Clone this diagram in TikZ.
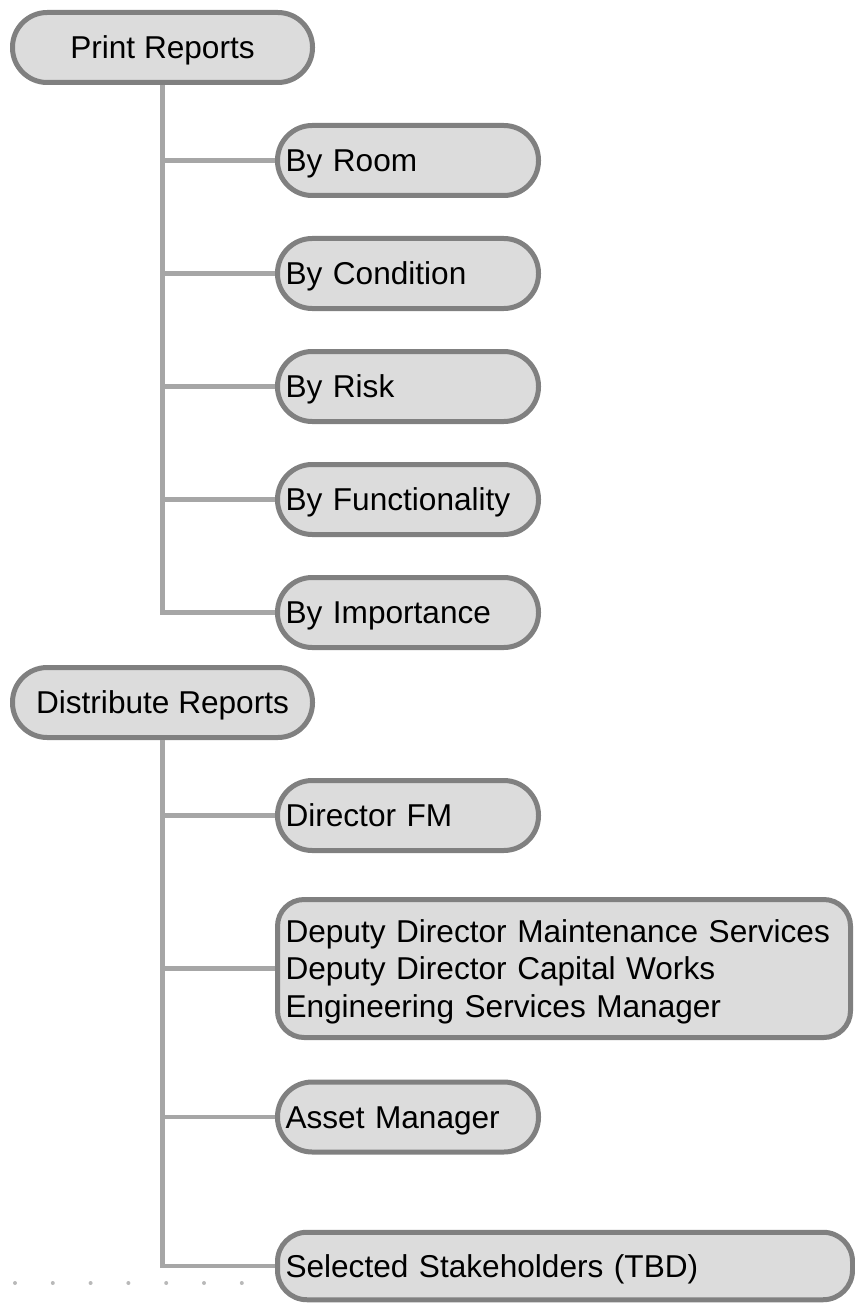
\documentclass[tikz,border=0pt]{standalone}
\usepackage{fontspec}
\setmainfont{Liberation Sans}
\definecolor{boxline}{RGB}{128,128,128}
\definecolor{boxfill}{RGB}{220,220,220}
\definecolor{linkline}{RGB}{166,166,166}
\definecolor{dotgray}{RGB}{185,185,185}
\tikzset{
  topic/.style={draw=boxline, fill=boxfill, line width=3.75pt,
    rounded corners=26pt, minimum width=225pt, minimum height=52.5pt,
    inner sep=0pt, align=center,
    font=\fontsize{23.7pt}{28.1pt}\selectfont,
    text height=17pt, text depth=0pt},
  item/.style={topic, minimum width=195.75pt, inner xsep=6pt,
    text width=183.75pt, align=left},
  wideitem/.style={item, minimum width=429.75pt, text width=417.75pt},
  link/.style={draw=linkline, line width=3.5pt, line join=miter},
  dots/.style={draw=dotgray, line width=3pt, line cap=round,
    dash pattern=on 0pt off 28.35pt}
}
\begin{document}
\begin{tikzpicture}[x=0.75pt, y=-0.75pt]
  \useasboundingbox (0,0) rectangle (855,1305);

  % first group: printing
  \node[topic] (print) at (162.5,47.5) {Print Reports};
  \node[item] (room)  at (408,160.5) {By Room};
  \node[item] (cond)  at (408,273.5) {By Condition};
  \node[item] (risk)  at (408,386.5) {By Risk};
  \node[item] (func)  at (408,499.5) {By Functionality};
  \node[item] (imp)   at (408,612.5) {By Importance};

  % second group: distribution
  \node[topic] (dist) at (162.5,702.5) {Distribute Reports};
  \node[item] (dfm)   at (408,815.5) {Director FM};
  \node[wideitem, minimum height=103.5pt, rounded corners=20pt,
        text depth=56.2pt] (deputy) at (564,968.5)
    {Deputy Director Maintenance Services\\
     Deputy Director Capital Works\\
     Engineering Services Manager};
  \node[item] (asset) at (408,1117) {Asset Manager};
  \node[wideitem, minimum width=431.25pt, text width=419.25pt,
        minimum height=50.6pt, rounded corners=22pt] (stake) at (565,1266)
    {Selected Stakeholders (TBD)};

  % tree connectors
  \foreach \c in {room,cond,risk,func,imp}
    \draw[link] (print.south) |- (\c.west);
  \foreach \c in {dfm,deputy,asset,stake}
    \draw[link] (dist.south) |- (\c.west);

  % faint dotted trail at the lower left
  \coordinate (trailA) at (15,1283);
  \coordinate (trailB) at (246,1283);
  \draw[dots] (trailA) -- (trailB);
\end{tikzpicture}
\end{document}
